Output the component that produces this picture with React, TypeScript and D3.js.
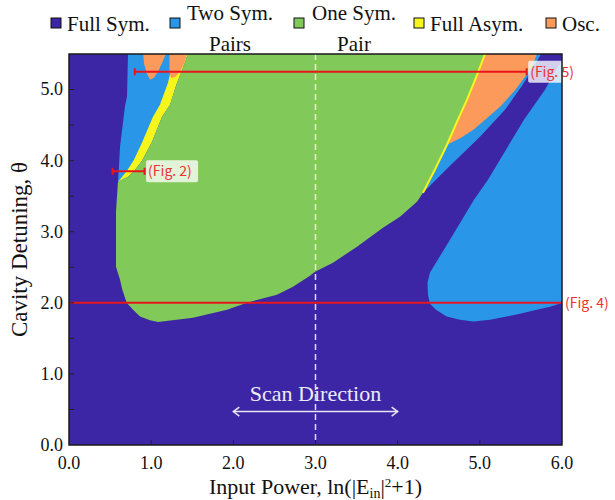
import React from 'react';
import * as d3 from 'd3';

type Pt = [number, number];

// ---------- axes ----------
const xTickValues = [0, 1, 2, 3, 4, 5, 6];
const yTickValues = [0, 1, 2, 3, 4, 5];
const yMinorTickValues = [0.5, 1.5, 2.5, 3.5, 4.5];

// ---------- legend ----------
const legendNames = [['Full Sym.'], ['Two Sym.', 'Pairs'], ['One Sym.', 'Pair'], ['Full Asym.'], ['Osc.']];
const legendColors = ['#3d26a5', '#2a96e7', '#81c958', '#f6f61c', '#fb9a5b'];

// ---------- phase regions (x = ln(|E_in|^2+1), y = θ) ----------
const greenRegion: Pt[] = [
  [1.448, 5.5], [1.387, 5.307], [1.314, 5.096], [1.229, 4.786], [1.132, 4.619], [1.01, 4.267],
  [0.888, 4.0], [0.803, 3.872], [0.718, 3.774], [0.596, 3.703],
  [0.572, 3.281], [0.572, 2.507], [0.621, 2.324], [0.649, 2.184], [0.702, 2.001], [0.779, 1.903],
  [0.864, 1.809], [0.986, 1.755], [1.083, 1.73],
  [1.509, 1.79], [1.923, 1.903], [2.166, 2.001], [2.531, 2.114], [2.726, 2.226], [2.933, 2.381],
  [2.994, 2.437], [3.213, 2.564], [3.505, 2.789], [3.821, 3.056], [4.028, 3.211], [4.235, 3.422],
  [4.308, 3.548], [4.454, 3.875], [4.6, 4.224], [4.722, 4.547], [4.844, 4.857], [4.953, 5.166], [5.063, 5.5],
];

const leftBlueEdge: Pt[] = [
  [0.718, 5.5], [0.714, 5.3], [0.706, 4.9], [0.682, 4.772], [0.657, 4.532], [0.621, 4.194],
  [0.608, 3.913], [0.596, 3.703],
];

const leftYellowEdge: Pt[] = [
  [0.608, 3.717], [0.706, 3.858], [0.791, 4.013], [0.888, 4.252], [1.022, 4.618], [1.107, 4.786],
  [1.205, 5.096], [1.241, 5.279], [1.278, 5.5],
];

const orangeBlobA: Pt[] = [
  [0.904, 5.5], [0.913, 5.362], [0.949, 5.222], [0.986, 5.138], [1.034, 5.166], [1.095, 5.278],
  [1.144, 5.405], [1.18, 5.5],
];

const orangeBlobB: Pt[] = [
  [1.223, 5.5], [1.223, 5.247], [1.241, 5.163], [1.29, 5.177], [1.351, 5.247], [1.4, 5.36], [1.44, 5.5],
];

const rightBlueRegion: Pt[] = [
  [4.363, 2.283], [4.369, 2.114], [4.393, 1.987], [4.466, 1.903], [4.597, 1.809], [4.758, 1.762],
  [4.92, 1.738], [5.124, 1.762], [5.327, 1.809], [5.489, 1.847], [5.692, 1.903], [5.854, 1.945],
  [6.0, 1.997], [6.0, 5.419], [5.793, 4.997], [5.537, 4.575], [5.318, 4.153], [5.099, 3.731],
  [4.929, 3.45], [4.783, 3.169], [4.6, 2.817], [4.466, 2.564], [4.393, 2.423],
];

const purpleBandLeftEdge: Pt[] = [
  [4.308, 3.548], [4.637, 3.928], [5.002, 4.336], [5.306, 4.716], [5.513, 5.053], [5.659, 5.321], [5.744, 5.5],
];

const yellowLine: Pt[] = [
  [4.308, 3.548], [4.454, 3.875], [4.6, 4.224], [4.722, 4.547], [4.844, 4.857], [4.953, 5.166], [5.063, 5.5],
];

const orangeWedgeLower: Pt[] = [
  [4.6, 4.224], [4.771, 4.322], [4.929, 4.443], [5.099, 4.609], [5.262, 4.776], [5.428, 4.99],
  [5.55, 5.18], [5.635, 5.321], [5.695, 5.5],
];

// ---------- annotations ----------
const figLabels = ['(Fig. 2)', '(Fig. 4)', '(Fig. 5)'];
const figTheta = [3.85, 2.0, 5.25];
const figX0 = [0.53, 0.0, 0.8];
const figX1 = [0.92, 6.0, 5.57];
const scanRange = [2.0, 4.0];
const scanTheta = 0.47;
const dashedX = 3.0;

const W = 615;
const H = 500;
const PL = 69, PR = 562, PT = 54, PB = 445;

const SERIF = '"Liberation Serif", "DejaVu Serif", serif';
const SANS = '"Noto Sans CJK JP", "Noto Sans", sans-serif';

export default function App() {
  const x = d3.scaleLinear().domain([0, 6]).range([PL, PR]);
  const y = d3.scaleLinear().domain([0, 5.5]).range([PB, PT]);
  const line = d3.line<Pt>().x((d) => x(d[0])).y((d) => y(d[1]));
  const poly = (pts: Pt[]) => (line(pts) || '') + 'Z';

  const yellowTop = yellowLine.slice().reverse();
  const leftBlue = [...leftBlueEdge, ...greenRegion.slice(0, 10).reverse()];
  const leftYellow = [...leftYellowEdge, ...greenRegion.slice(0, 10)];
  const rightThinBlue = [...purpleBandLeftEdge, ...yellowTop];
  const orangeWedge = [...orangeWedgeLower, ...yellowTop.filter((p) => p[1] >= 4.224)];

  const legendSquareX = [51, 170, 294, 414, 546];

  return (
    <svg width={W} height={H} style={{ position: 'fixed', left: 0, top: 0, display: 'block' }}
      xmlns="http://www.w3.org/2000/svg">
      <rect x={0} y={0} width={W} height={H} fill="#ffffff" />
      <defs>
        <clipPath id="plotClip">
          <rect x={PL} y={PT} width={PR - PL} height={PB - PT} />
        </clipPath>
      </defs>

      <g clipPath="url(#plotClip)">
        <rect x={PL} y={PT} width={PR - PL} height={PB - PT} fill={legendColors[0]} />
        <path d={poly(rightBlueRegion)} fill={legendColors[1]} />
        <path d={poly(rightThinBlue)} fill={legendColors[1]} />
        <path d={poly(orangeWedge)} fill={legendColors[4]} />
        <path d={poly(leftBlue)} fill={legendColors[1]} />
        <path d={poly(leftYellow)} fill={legendColors[3]} />
        <path d={poly(orangeBlobA)} fill={legendColors[4]} />
        <path d={poly(orangeBlobB)} fill={legendColors[4]} />
        <path d={poly(greenRegion)} fill={legendColors[2]} />
        <path d={line(yellowLine) || ''} fill="none" stroke={legendColors[3]} strokeWidth={2} />

        {/* dashed scan line */}
        <line x1={x(dashedX)} x2={x(dashedX)} y1={PT} y2={PB} stroke="#f4f4f8" strokeWidth={1.5}
          strokeDasharray="6,4" opacity={0.9} />

        {/* scan direction arrow */}
        <line x1={x(scanRange[0])} x2={x(scanRange[1])} y1={y(scanTheta)} y2={y(scanTheta)}
          stroke="#e8e6f4" strokeWidth={1.5} />
        <path d={`M${x(scanRange[0]) + 6},${y(scanTheta) - 4.5} L${x(scanRange[0])},${y(scanTheta)} L${x(scanRange[0]) + 6},${y(scanTheta) + 4.5}`}
          fill="none" stroke="#e8e6f4" strokeWidth={1.5} />
        <path d={`M${x(scanRange[1]) - 6},${y(scanTheta) - 4.5} L${x(scanRange[1])},${y(scanTheta)} L${x(scanRange[1]) - 6},${y(scanTheta) + 4.5}`}
          fill="none" stroke="#e8e6f4" strokeWidth={1.5} />
        <text x={x(3.0)} y={401} textAnchor="middle" fontFamily={SERIF} fontSize={22} fill="#ecebf6">
          Scan Direction
        </text>

        {/* red fig lines */}
        {figLabels.map((lab, i) => (
          <g key={lab}>
            <line x1={x(figX0[i])} x2={x(figX1[i])} y1={y(figTheta[i])} y2={y(figTheta[i])}
              stroke="#e8161c" strokeWidth={2} />
            {i !== 1 && (
              <>
                <line x1={x(figX0[i])} x2={x(figX0[i])} y1={y(figTheta[i]) - 3.5} y2={y(figTheta[i]) + 3.5}
                  stroke="#e8161c" strokeWidth={2} />
                <line x1={x(figX1[i])} x2={x(figX1[i])} y1={y(figTheta[i]) - 3.5} y2={y(figTheta[i]) + 3.5}
                  stroke="#e8161c" strokeWidth={2} />
              </>
            )}
          </g>
        ))}
      </g>

      {/* label boxes */}
      {figLabels.map((lab, i) => {
        if (i === 1) {
          return (
            <text key={lab} x={PR + 3} y={y(figTheta[i])} dy="0.35em" fontFamily={SANS} fontSize={14}
              fill="#ee3030">{lab}</text>
          );
        }
        const bx = x(figX1[i]) + 1.5;
        return (
          <g key={lab}>
            <rect x={bx} y={y(figTheta[i]) - 11} width={52} height={22} rx={2} fill="#ffffff" opacity={0.78} />
            <text x={bx + 2} y={y(figTheta[i])} dy="0.35em" fontFamily={SANS} fontSize={14} fill="#ee3030">{lab}</text>
          </g>
        );
      })}

      {/* frame */}
      <rect x={PL} y={PT} width={PR - PL} height={PB - PT} fill="none" stroke="#1a1a1a" strokeWidth={1.5} />

      {/* ticks */}
      {xTickValues.map((v) => (
        <g key={'xt' + v}>
          {v > 0 && v < 6 && <line x1={x(v)} x2={x(v)} y1={PB} y2={PB - 5} stroke="#222" strokeWidth={1} />}
          <text x={x(v)} y={469} textAnchor="middle" fontFamily={SERIF} fontSize={18} fill="#111">
            {v.toFixed(1)}
          </text>
        </g>
      ))}
      {yTickValues.map((v) => (
        <g key={'yt' + v}>
          {v > 0 && <line x1={PL} x2={PL + 5} y1={y(v)} y2={y(v)} stroke="#222" strokeWidth={1} />}
          <text x={63} y={y(v)} dy="0.33em" textAnchor="end" fontFamily={SERIF} fontSize={18} fill="#111">
            {v.toFixed(1)}
          </text>
        </g>
      ))}
      {yMinorTickValues.map((v) => (
        <line key={'ym' + v} x1={PL} x2={PL + 5} y1={y(v)} y2={y(v)} stroke="#222" strokeWidth={1} />
      ))}

      {/* axis labels */}
      <text x={(PL + PR) / 2} y={494} textAnchor="middle" fontFamily={SERIF} fontSize={22} fill="#111">
        Input Power, ln(|E<tspan fontSize={14} dy={4}>in</tspan><tspan dy={-4}>|</tspan>
        <tspan fontSize={13} dy={-7}>2</tspan><tspan dy={7}>+1)</tspan>
      </text>
      <text transform={`translate(27,${(PT + PB) / 2}) rotate(-90)`} textAnchor="middle" fontFamily={SERIF}
        fontSize={23} fill="#111">
        Cavity Detuning, θ
      </text>

      {/* legend */}
      {legendNames.map((lines, i) => {
        const sx = legendSquareX[i];
        return (
          <g key={'lg' + i}>
            <rect x={sx} y={18} width={10} height={10} fill={legendColors[i]} stroke="#111" strokeWidth={1} />
            {lines.length === 1 ? (
              <text x={sx + 16} y={31} fontFamily={SERIF} fontSize={21} fill="#111">{lines[0]}</text>
            ) : (
              <text textAnchor="middle" fontFamily={SERIF} fontSize={21} fill="#111">
                <tspan x={sx + 60} y={20}>{lines[0]}</tspan>
                <tspan x={sx + 60} y={51}>{lines[1]}</tspan>
              </text>
            )}
          </g>
        );
      })}
    </svg>
  );
}
